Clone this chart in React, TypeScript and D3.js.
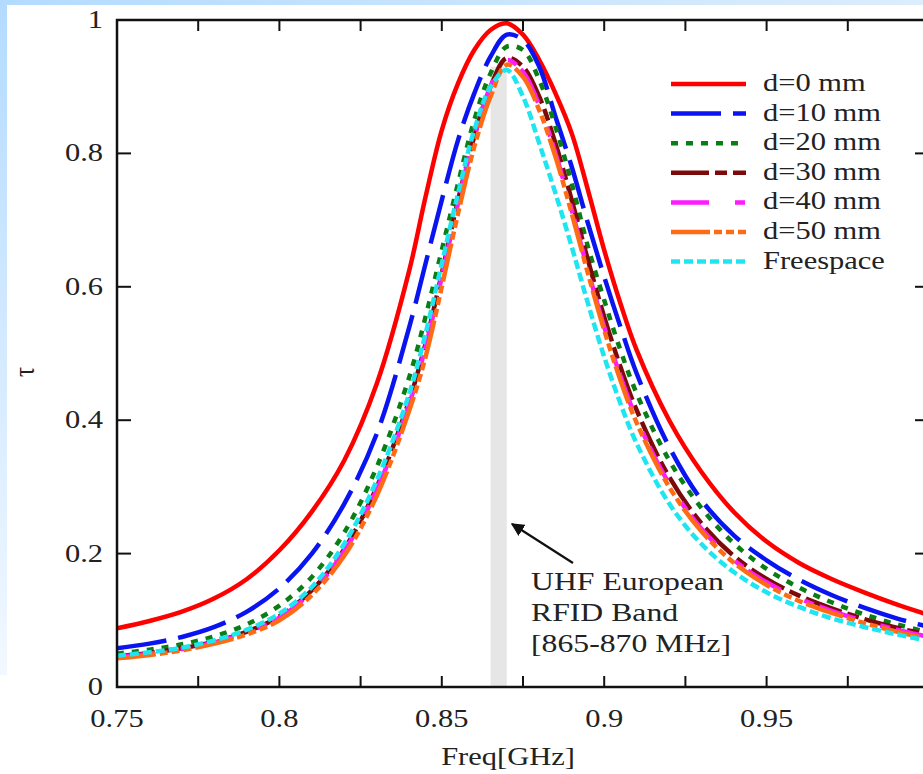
import React from "react";
import * as d3 from "d3";

const freq = [0.75,0.76,0.77,0.78,0.79,0.80,0.81,0.82,0.83,0.84,0.845,0.85,0.855,0.86,0.865,0.87,0.875,0.88,0.885,0.89,0.895,0.90,0.905,0.91,0.92,0.93,0.94,0.95,0.96,0.97,0.98,0.99,1.00];

const d0 = [.088,.099,.113,.133,.162,.205,.263,.34,.455,.625,.735,.835,.905,.955,.985,.995,.978,.94,.89,.83,.745,.655,.575,.505,.40,.322,.262,.218,.186,.162,.142,.124,.108];
const d10 = [.058,.065,.075,.09,.113,.148,.20,.275,.38,.54,.635,.73,.82,.89,.945,.978,.97,.93,.855,.78,.695,.615,.54,.47,.36,.28,.227,.19,.161,.138,.119,.103,.09];
const d20 = [.05,.056,.064,.076,.094,.122,.165,.232,.33,.465,.555,.655,.755,.85,.92,.96,.955,.91,.84,.755,.66,.58,.505,.44,.34,.268,.215,.177,.149,.127,.109,.094,.082];
const d30 = [.046,.051,.058,.068,.083,.106,.145,.207,.30,.43,.515,.62,.73,.825,.90,.943,.93,.885,.815,.73,.64,.555,.48,.415,.315,.245,.196,.162,.137,.118,.102,.089,.078];
const d40 = [.045,.05,.057,.067,.082,.104,.143,.204,.296,.425,.51,.615,.725,.825,.90,.94,.922,.872,.80,.715,.625,.54,.466,.402,.305,.237,.19,.157,.133,.114,.099,.086,.075];
const d50 = [.043,.048,.055,.065,.079,.10,.138,.197,.287,.415,.495,.60,.71,.81,.885,.933,.915,.865,.795,.71,.62,.535,.46,.396,.30,.233,.186,.153,.129,.111,.096,.083,.072];
const freeSpace = [.047,.052,.059,.07,.086,.11,.15,.215,.31,.44,.53,.635,.74,.835,.90,.925,.885,.815,.74,.66,.575,.495,.425,.365,.275,.214,.172,.142,.12,.103,.09,.079,.069];

const seriesNames = ["d=0 mm","d=10 mm","d=20 mm","d=30 mm","d=40 mm","d=50 mm","Freespace"];
const seriesValues = [d0, d10, d20, d30, d40, d50, freeSpace];
const seriesColors = ["#ff0000","#0a14f0","#0a7d14","#7d0a0a","#ff1aff","#ff6a14","#1ee6f0"];
const seriesDash = ["none","50,12","7,8","38,6,12,6","38,26,10,6","39,4,8,4,8,4,8,4","9,4"];

const xTickLabels = [0.75, 0.8, 0.85, 0.9, 0.95];
const yTickLabels = [0, 0.2, 0.4, 0.6, 0.8, 1];
const bandRange = [0.865, 0.870];
const bandTop = 0.93;

const W = 923, H = 774;
const FONT = "'Liberation Serif', 'Times New Roman', serif";
const SX = 1.22;

export default function App() {
  const x = d3.scaleLinear().domain([0.75, 1.0]).range([117, 929]);
  const y = d3.scaleLinear().domain([0, 1]).range([687, 20]);
  const line = d3.line<number>()
    .x((_, i) => x(freq[i]))
    .y((v) => y(v))
    .curve(d3.curveCatmullRom.alpha(0.5));
  const xMinor = d3.range(0, 11).map((i) => 0.75 + i * 0.025);

  const T = (props: { x: number; y: number; anchor?: string; size?: number; children: any; rotate?: number }) => (
    <text
      transform={`translate(${props.x},${props.y}) scale(${SX},1)${props.rotate ? ` rotate(${props.rotate})` : ""}`}
      textAnchor={props.anchor || "start"}
      fontFamily={FONT}
      fontSize={props.size || 25}
      fill="#222"
    >
      {props.children}
    </text>
  );

  return (
    <svg width={W} height={H} style={{ position: "absolute", left: 0, top: 0, display: "block", background: "#fff" }}>
      <defs>
        <linearGradient id="topg" x1="0" x2="1" y1="0" y2="0">
          <stop offset="0" stopColor="#b3dbff" />
          <stop offset="1" stopColor="#dcedfc" />
        </linearGradient>
        <linearGradient id="leftg" x1="0" x2="0" y1="0" y2="1">
          <stop offset="0" stopColor="#b3dbff" />
          <stop offset="1" stopColor="#f2f8ff" />
        </linearGradient>
        <clipPath id="plot">
          <rect x={117} y={20} width={812} height={667} />
        </clipPath>
        <marker id="arr" viewBox="0 0 10 10" refX="9" refY="5" markerWidth="6" markerHeight="6" orient="auto">
          <path d="M0,0 L10,5 L0,10 z" fill="#111" />
        </marker>
      </defs>
      <rect x={0} y={0} width={W} height={H} fill="#fff" />
      <rect x={0} y={0} width={W} height={5} fill="url(#topg)" />
      <rect x={0} y={0} width={7} height={675} fill="url(#leftg)" />

      <rect x={x(bandRange[0])} y={y(bandTop)} width={x(bandRange[1]) - x(bandRange[0])} height={y(0) - y(bandTop)} fill="#e6e6e6" />

      <g clipPath="url(#plot)">
        {seriesValues.map((vals, i) => (
          <path key={i} d={line(vals) || ""} fill="none" stroke={seriesColors[i]} strokeWidth={4.5}
            strokeDasharray={seriesDash[i] === "none" ? undefined : seriesDash[i]} />
        ))}
      </g>

      <rect x={117} y={20} width={812} height={667} fill="none" stroke="#111" strokeWidth={2.5} />
      {xMinor.map((t, i) => (
        <g key={"xt" + i}>
          <line x1={x(t)} x2={x(t)} y1={687} y2={676} stroke="#111" strokeWidth={2} />
          <line x1={x(t)} x2={x(t)} y1={20} y2={31} stroke="#111" strokeWidth={2} />
        </g>
      ))}
      {yTickLabels.map((t, i) => (
        <g key={"yt" + i}>
          <line x1={117} x2={131} y1={y(t)} y2={y(t)} stroke="#111" strokeWidth={2} />
          <line x1={929} x2={915} y1={y(t)} y2={y(t)} stroke="#111" strokeWidth={2} />
          <T x={103} y={y(t) + 8} anchor="end">{d3.format("~g")(t)}</T>
        </g>
      ))}
      {xTickLabels.map((t, i) => (
        <T key={"xl" + i} x={x(t)} y={727} anchor="middle">{d3.format("~g")(t)}</T>
      ))}

      <T x={508} y={765} anchor="middle">Freq[GHz]</T>
      <T x={34} y={372} anchor="middle" rotate={-90} size={25}>τ</T>

      {seriesNames.map((n, i) => {
        const ly = 84 + i * 29.6;
        return (
          <g key={"lg" + i}>
            <line x1={671} x2={746} y1={ly} y2={ly} stroke={seriesColors[i]} strokeWidth={4.5}
              strokeDasharray={seriesDash[i] === "none" ? undefined : seriesDash[i]} />
            <T x={763} y={ly + 7}>{n}</T>
          </g>
        );
      })}

      <line x1={573} y1={563} x2={512} y2={524} stroke="#111" strokeWidth={2.2} markerEnd="url(#arr)" />
      <T x={531} y={590} size={26}>UHF European</T>
      <T x={531} y={621} size={26}>RFID Band</T>
      <T x={531} y={652} size={26}>[865-870 MHz]</T>
    </svg>
  );
}
